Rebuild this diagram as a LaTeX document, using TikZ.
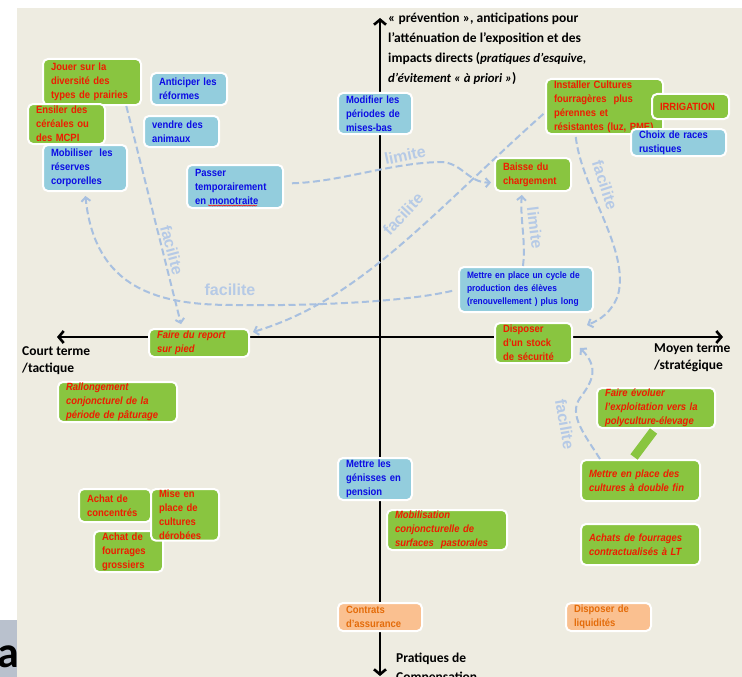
\documentclass[tikz,border=0pt]{standalone}
\usepackage{fontspec}
\setmainfont{Liberation Sans}
\newfontfamily\boxfont[FakeStretch=0.9]{Liberation Sans}
\newfontfamily\axisfont{Carlito}
\usetikzlibrary{arrows.meta,decorations.pathmorphing}
\definecolor{panel}{RGB}{238,236,225}
\definecolor{boxgreen}{RGB}{137,197,64}
\definecolor{boxblue}{RGB}{147,205,221}
\definecolor{boxorange}{RGB}{250,192,144}
\definecolor{txtred}{RGB}{238,28,0}
\definecolor{txtblue}{RGB}{12,12,228}
\definecolor{txtorange}{RGB}{228,108,10}
\definecolor{arrowblue}{RGB}{168,192,224}
\definecolor{lblblue}{RGB}{182,202,230}
\definecolor{tabgray}{RGB}{185,193,205}
\tikzset{
	anybox/.style={anchor=north west, rounded corners=5pt, draw=white, line width=2pt, inner xsep=8pt, inner ysep=1pt, align=left, font=\boxfont\bfseries\fontsize{10.5}{14}\selectfont},
	grnbox/.style={anybox, fill=boxgreen, text=txtred},
	grnitbox/.style={grnbox, font=\boxfont\bfseries\itshape\fontsize{10.5}{14}\selectfont},
	blubox/.style={anybox, fill=boxblue, text=txtblue},
	orgbox/.style={anybox, fill=boxorange, text=txtorange},
	axisline/.style={line width=2.6pt, {Straight Barb[length=5pt,width=12pt]}-{Straight Barb[length=5pt,width=12pt]}},
	axlbl/.style={anchor=north west, inner sep=0pt, align=left, font=\axisfont\bfseries\fontsize{13.5}{17}\selectfont},
	dasharrow/.style={draw=arrowblue, line width=2pt, dash pattern=on 7pt off 3.5pt, -{Straight Barb[length=4pt,width=9pt]}},
	lbl/.style={inner sep=0pt, text=lblblue, font=\bfseries\fontsize{16}{16}\selectfont}
}
\begin{document}
\begin{tikzpicture}[x=1pt,y=-1pt]
	\useasboundingbox (0,0) rectangle (742,677);
	\fill[white] (0,0) rectangle (742,677);
	\fill[tabgray] (0,620) rectangle (17,677);
	\node[anchor=base west, inner sep=0pt, font=\axisfont\bfseries\fontsize{44}{44}\selectfont] (tag) at (-3,667) {a};
	\fill[panel] (17,8) rectangle (742,677);
	\coordinate (ytop) at (380,18);
	\coordinate (ybot) at (380,676);
	\coordinate (xleft) at (57,337);
	\coordinate (xright) at (723,337);
	\draw[axisline] (ybot)--(ytop);
	\draw[axisline] (xleft)--(xright);
	\node[axlbl, font=\axisfont\bfseries\fontsize{13.5}{20}\selectfont] (prev) at (388,13) {« prévention », anticipations pour\\l’atténuation de l’exposition et des\\impacts directs ({\itshape\fontsize{12.8}{20}\selectfont pratiques d’esquive,}\\{\itshape\fontsize{12.8}{20}\selectfont d’évitement « à priori »})};
	\node[axlbl] (court) at (22,346) {Court terme\\/tactique};
	\node[axlbl] (moyen) at (654,344) {Moyen terme\\/stratégique};
	\node[axlbl, font=\axisfont\bfseries\fontsize{13.5}{19}\selectfont] (compens) at (396,653) {Pratiques de\\Compensation};

	\node[grnbox, text width=82pt, minimum height=46pt] (jouer) at (42,58) {Jouer sur la\\diversité des\\types de prairies};
	\node[grnbox, text width=61pt, minimum height=40pt] (ensiler) at (27,103) {Ensiler des\\céréales ou\\des MCPI};
	\node[blubox, text width=68pt, minimum height=46pt] (mobil) at (42,144) {Mobiliser\ \ les\\réserves\\corporelles};
	\node[blubox, text width=60pt, minimum height=32pt] (antic) at (150,72) {Anticiper les\\réformes};
	\node[blubox, text width=59pt, minimum height=31pt] (vendre) at (143,115) {vendre des\\animaux};
	\node[blubox, text width=80pt, minimum height=43pt] (passer) at (186,164) {Passer\\temporairement\\en monotraite};
	\node[blubox, text width=58pt, minimum height=41pt] (modif) at (337,92) {Modifier les\\périodes de\\mises-bas};
	\node[grnbox, text width=101pt, minimum height=55pt] (install) at (545,78) {Installer Cultures\\fourragères\ \ plus\\pérennes et\\résistantes (luz, PME)};
	\node[grnbox, text width=61pt, minimum height=25pt] (irrig) at (651,93) {IRRIGATION};
	\node[blubox, text width=79pt, minimum height=27pt] (choix) at (630,128) {Choix de races\\rustiques};
	\node[grnbox, text width=60pt, minimum height=33pt] (baisse) at (494,157) {Baisse du\\chargement};
	\node[blubox, text width=118pt, minimum height=45pt, font=\boxfont\bfseries\fontsize{9.3}{13}\selectfont] (cycle) at (458,266) {Mettre en place un cycle de\\production des élèves\\(renouvellement ) plus long};
	\node[grnbox, text width=61pt, minimum height=40pt] (stock) at (494,322) {Disposer\\d’un stock\\de sécurité};
	\node[grnitbox, text width=84pt, minimum height=28pt] (report) at (148,328) {Faire du report\\sur pied};
	\node[grnitbox, text width=103pt, minimum height=40pt] (rallong) at (57,381) {Rallongement\\conjoncturel de la\\période de pâturage};
	\node[grnitbox, text width=102pt, minimum height=40pt] (evoluer) at (596,387) {Faire évoluer\\l’exploitation vers la\\polyculture-élevage};
	\node[grnitbox, text width=103pt, minimum height=41pt] (double) at (580,459) {Mettre en place des\\cultures à double fin};
	\node[grnitbox, text width=103pt, minimum height=41pt] (achats) at (580,523) {Achats de fourrages\\contractualisés à LT};
	\node[blubox, text width=58pt, minimum height=42pt] (genis) at (337,457) {Mettre les\\génisses en\\pension};
	\node[grnitbox, text width=104pt, minimum height=40pt] (pastor) at (386,509) {Mobilisation\\conjoncturelle de\\surfaces\ \ pastorales};
	\node[orgbox, text width=68pt, minimum height=28pt] (assur) at (337,602) {Contrats\\d’assurance};
	\node[orgbox, text width=69pt, minimum height=28pt] (liquid) at (565,602) {Disposer de\\liquidités};
	\node[grnbox, text width=56pt, minimum height=33pt] (concent) at (78,488) {Achat de\\concentrés};
	\node[grnbox, text width=53pt, minimum height=41pt] (grossier) at (93,530) {Achat de\\fourrages\\grossiers};
	\node[grnbox, text width=52pt, minimum height=51pt] (derob) at (150,488) {Mise en\\place de\\cultures\\dérobées};

	\draw[red, line width=0.5pt, decorate, decoration={snake, amplitude=0.6pt, segment length=2.5pt}] ([shift={(22pt,3.5pt)}]passer.south west)--([shift={(71pt,3.5pt)}]passer.south west);
	\draw[boxgreen, line width=9pt, shorten <=2.5pt, shorten >=2.5pt] ([xshift=-1pt]evoluer.south)--([xshift=-8pt]double.north);

	\draw[dasharrow, shorten >=4pt] (jouer.-35)--([xshift=-17pt]report.north);
	\node[lbl, rotate=-75] (fa1) at (172,250) {facilite};
	\draw[dasharrow, shorten <=6pt, shorten >=4pt] (cycle.west) .. controls (400,303) and (300,306) .. (233,305) .. controls (160,305) and (95,290) .. (mobil.south);
	\node[lbl] (fa2) at (230,290) {facilite};
	\draw[dasharrow, shorten <=2pt] ([yshift=-6pt]install.west) .. controls (430,215) and (360,300) .. ([shift={(3pt,-4pt)}]report.north east);
	\node[lbl, rotate=47] (fa3) at (403,214) {facilite};
	\draw[dasharrow, shorten <=8pt, shorten >=3pt] ([yshift=3pt]passer.east) .. controls (340,182) and (390,163) .. (440,162) .. controls (462,162) and (468,183) .. ([yshift=-8pt]baisse.west);
	\node[lbl, rotate=12] (li1) at (405,155) {limite};
	\draw[dasharrow, shorten >=3pt] ([xshift=-3pt]cycle.north) .. controls (526,240) and (520,220) .. ([xshift=-11pt]baisse.south);
	\node[lbl, rotate=-83] (li2) at (535,228) {limite};
	\draw[dasharrow, shorten <=2pt] ([xshift=-29pt]install.south) .. controls (582,190) and (630,250) .. (618,295) .. controls (612,312) and (600,320) .. ([shift={(14pt,-3pt)}]stock.north east);
	\node[lbl, rotate=-72] (fa4) at (605,185) {facilite};
	\draw[dasharrow] ([xshift=20pt]double.north west) .. controls (585,435) and (568,415) .. (580,398) .. controls (592,382) and (600,368) .. ([shift={(7pt,-5pt)}]stock.east);
	\node[lbl, rotate=-80] (fa5) at (565,424) {facilite};
\end{tikzpicture}
\end{document}
